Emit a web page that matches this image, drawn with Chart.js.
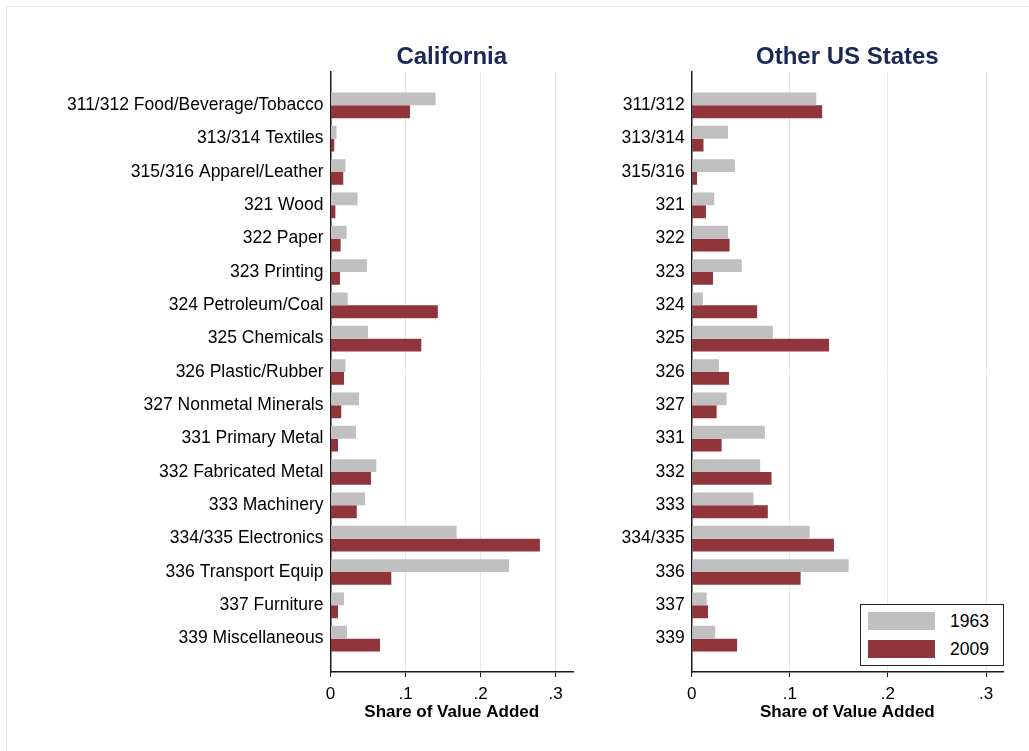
<!DOCTYPE html>
<html>
<head>
<meta charset="utf-8">
<script src="https://cdn.jsdelivr.net/npm/chart.js@4.4.1/dist/chart.umd.min.js"></script>
<style>
  body { margin: 0; background: #fff; font-family: "Liberation Sans", Arial, sans-serif; }
  #wrap { position: relative; width: 1029px; height: 751px; overflow: hidden; }
  #frame { position: absolute; left: 6px; top: 6px; width: 1040px; height: 760px; border: 1px solid #e6eded; }
  #caChart { position: absolute; left: 0; top: 0; }
  #usChart { position: absolute; left: 600px; top: 0; }
  #legend { position: absolute; left: 860px; top: 604px; width: 142px; height: 60px; border: 1.5px solid #222; background: #fff; }
  .item { position: absolute; left: 7px; height: 18px; width: 130px; }
  .sw { position: absolute; left: 0; top: 0; width: 67px; height: 18px; }
  .lab { position: absolute; left: 82px; top: -1px; font-size: 17.5px; line-height: 20px; color: #000; }
</style>
</head>
<body>
<div id="wrap">
  <div id="frame"></div>
  <canvas id="caChart" width="600" height="751"></canvas>
  <canvas id="usChart" width="429" height="751"></canvas>
  <div id="legend"></div>
</div>
<script>
// Catégories (NAICS)
var caLabels = ['311/312 Food/Beverage/Tobacco', '313/314 Textiles', '315/316 Apparel/Leather', '321 Wood', '322 Paper',
    '323 Printing', '324 Petroleum/Coal', '325 Chemicals', '326 Plastic/Rubber', '327 Nonmetal Minerals',
    '331 Primary Metal', '332 Fabricated Metal', '333 Machinery', '334/335 Electronics', '336 Transport Equip',
    '337 Furniture', '339 Miscellaneous'];
var usLabels = ['311/312', '313/314', '315/316', '321', '322', '323', '324', '325', '326', '327',
    '331', '332', '333', '334/335', '336', '337', '339'];

var years = ['1963', '2009'];

// Parts de valeur ajoutée
var ca1963 = [0.140, 0.008, 0.020, 0.036, 0.0215, 0.0485, 0.023, 0.050, 0.020, 0.038, 0.034, 0.061, 0.046, 0.168, 0.238, 0.018, 0.022];
var ca2009 = [0.106, 0.005, 0.017, 0.0065, 0.0135, 0.0126, 0.143, 0.121, 0.018, 0.0143, 0.010, 0.054, 0.035, 0.279, 0.081, 0.010, 0.066];
var us1963 = [0.127, 0.037, 0.044, 0.023, 0.037, 0.051, 0.0115, 0.0827, 0.0278, 0.0356, 0.0746, 0.0698, 0.063, 0.1203, 0.160, 0.0153, 0.0239];
var us2009 = [0.133, 0.012, 0.0054, 0.0145, 0.0386, 0.0217, 0.0667, 0.140, 0.038, 0.0254, 0.0305, 0.0814, 0.0776, 0.145, 0.111, 0.0166, 0.0463];

var xTicks = [0, 0.1, 0.2, 0.3];

var gray = '#c0c0c0';
var red = '#90353b';
var FONT = '"Liberation Sans", Arial, sans-serif';

// une ligne vide en haut et en bas pour la marge de l'axe
function pad(arr, blank) {
    return [blank].concat(arr).concat([blank]);
}

function makeChart(id, title, labels, v1963, v2009, xmax, yWidth, padRight) {
    var ctx = document.getElementById(id).getContext('2d');
    return new Chart(ctx, {
        type: 'bar',
        data: {
            labels: pad(labels, ''),
            datasets: [{
                label: years[0],
                data: pad(v1963, null),
                backgroundColor: gray,
                borderWidth: 0
            }, {
                label: years[1],
                data: pad(v2009, null),
                backgroundColor: red,
                borderWidth: 0
            }]
        },
        options: {
            indexAxis: 'y',
            responsive: false,
            animation: false,
            devicePixelRatio: 1,
            categoryPercentage: 0.77,
            barPercentage: 1.0,
            layout: { padding: { left: 0, right: padRight, top: 0, bottom: 0 } },
            plugins: {
                legend: { display: false },
                tooltip: { enabled: false },
                title: {
                    display: true,
                    text: title,
                    fullSize: false,
                    color: '#1b2857',
                    font: { family: FONT, size: 24, weight: 'bold' },
                    padding: { top: 43.2, bottom: 0 }
                }
            },
            scales: {
                x: {
                    type: 'linear',
                    min: 0,
                    max: xmax,
                    afterBuildTicks: function (scale) {
                        scale.ticks = xTicks.map(function (v) { return { value: v }; });
                    },
                    afterFit: function (scale) { scale.height = 79; },
                    ticks: {
                        color: '#000',
                        font: { family: FONT, size: 17 },
                        padding: 7,
                        maxRotation: 0,
                        callback: function (v) {
                            return v === 0 ? '0' : v.toFixed(1).replace(/^0/, '');
                        }
                    },
                    grid: { color: '#e3eced', lineWidth: 1, tickColor: '#1a1a1a', tickLength: 5 },
                    border: { color: '#1a1a1a', width: 1.5 },
                    title: {
                        display: true,
                        text: 'Share of Value Added',
                        color: '#000',
                        font: { family: FONT, size: 17, weight: 'bold' },
                        padding: { top: 0, bottom: 28.5 }
                    }
                },
                y: {
                    type: 'category',
                    offset: false,
                    afterFit: function (scale) { scale.width = yWidth; },
                    ticks: {
                        color: '#000',
                        font: { family: FONT, size: 17.5 },
                        padding: 7,
                        autoSkip: false
                    },
                    grid: { display: true, drawOnChartArea: false, drawTicks: false },
                    border: { color: '#1a1a1a', width: 1.5 }
                }
            }
        }
    });
}

makeChart('caChart', 'California', caLabels, ca1963, ca2009, 0.3231, 330.5, 27);
makeChart('usChart', 'Other US States', usLabels, us1963, us2009, 0.3173, 91.7, 26);

// Légende
var legend = document.getElementById('legend');
[gray, red].forEach(function (c, i) {
    var item = document.createElement('div');
    item.className = 'item';
    item.style.top = (7 + i * 28) + 'px';
    item.innerHTML = '<div class="sw" style="background:' + c + '"></div><div class="lab">' + years[i] + '</div>';
    legend.appendChild(item);
});
</script>
</body>
</html>
